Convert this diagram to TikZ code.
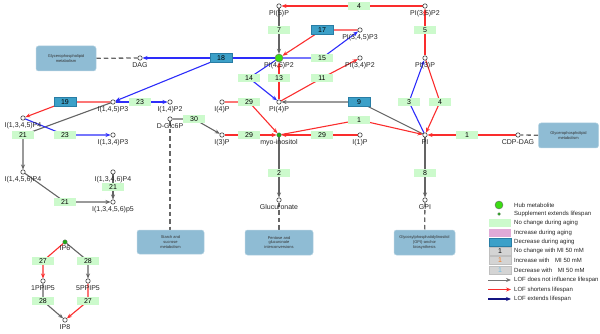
\documentclass[tikz,border=0pt]{standalone}
\usepackage{fontspec}
\setmainfont{Liberation Sans}
\usetikzlibrary{arrows.meta}
\definecolor{boxgreen}{RGB}{204,250,204}
\definecolor{boxblue}{RGB}{60,160,200}
\definecolor{boxblueborder}{RGB}{40,125,165}
\definecolor{pathbox}{RGB}{143,188,212}
\definecolor{pathborder}{RGB}{180,210,225}
\definecolor{redl}{RGB}{250,45,45}
\definecolor{bluel}{RGB}{45,45,250}
\definecolor{grayl}{RGB}{100,100,100}
\definecolor{navyl}{RGB}{20,20,130}
\definecolor{pinkbox}{RGB}{225,170,215}
\definecolor{graybox}{RGB}{212,212,212}
\definecolor{hubgreen}{RGB}{60,220,20}
\definecolor{supgreen}{RGB}{30,170,20}
\definecolor{orangetxt}{RGB}{240,120,30}
\definecolor{ltbluetxt}{RGB}{110,190,230}
\pgfdeclarelayer{bg}\pgfsetlayers{bg,main}
\begin{document}
\begin{tikzpicture}[x=1pt,y=-1pt,label distance=1pt,
  met/.style={circle,draw=black!75,fill=white,line width=0.6pt,inner sep=0pt,minimum size=4.4pt},
  hubm/.style={circle,draw=black!60,fill=hubgreen,line width=0.4pt,inner sep=0pt,minimum size=8pt},
  supm/.style={circle,draw=black!60,fill=supgreen,line width=0.3pt,inner sep=0pt,minimum size=4.5pt},
  labst/.style={font=\fontsize{7}{7}\selectfont,inner sep=0.5pt,text=black!85},
  rx/.style={fill=boxgreen,inner sep=0pt,minimum width=22pt,minimum height=8.5pt,font=\fontsize{7}{7}\selectfont},
  rxb/.style={rx,fill=boxblue,draw=boxblueborder,line width=0.5pt},
  pw/.style={rounded corners=2.5pt,fill=pathbox,draw=pathborder,line width=0.5pt,inner sep=0pt,align=center,font=\fontsize{4}{4.8}\selectfont,text=black!80},
  tip/.style={-{Stealth[length=5pt,width=4pt]}},
  redc/.style={draw=redl,line width=1.1pt,tip},
  bluec/.style={draw=bluel,line width=1.1pt,tip},
  grayc/.style={draw=grayl,line width=1.1pt,tip},
  dsh/.style={draw=black!60,line width=1.3pt,dash pattern=on 4.5pt off 3pt},
  legt/.style={anchor=west,inner sep=0pt,font=\fontsize{6}{6}\selectfont,text=black!85},
  legb/.style={inner sep=0pt,minimum width=22pt,minimum height=8pt,font=\fontsize{7}{7}\selectfont}
]
\useasboundingbox (0,0) rectangle (600,334);

% ---------- metabolites ----------
\node[met,label={[labst]below:PI(5)P}] (PI5P) at (279,6) {};
\node[met,label={[labst]below:PI(3,5)P2}] (PI35P2) at (425,6) {};
\node[met,label={[labst]below:PI(3)P}] (PI3P) at (425,58) {};
\node[met,label={[labst]below:PI}] (PI) at (425,135) {};
\node[met,label={[labst]below:CDP-DAG}] (CDPDAG) at (518,135) {};
\node[met,label={[labst]below:GPI}] (GPI) at (425,200) {};
\node[hubm,label={[labst,yshift=1pt]below:PI(4,5)P2}] (PI45P2) at (279,58) {};
\node[met,label={[labst]below:PI(3,4,5)P3}] (PI345P3) at (360,30) {};
\node[met,label={[labst]below:PI(3,4)P2}] (PI34P2) at (360,58) {};
\node[met,label={[labst]below:PI(4)P}] (PI4P) at (279,102) {};
\node[met,label={[labst]below:DAG}] (DAG) at (140,58) {};
\node[met,label={[labst]below:I(4)P}] (I4P) at (222,102) {};
\node[met,label={[labst]below:I(3)P}] (I3P) at (222,135) {};
\node[met,label={[labst]below:I(1)P}] (I1P) at (360,135) {};
\node[supm,label={[labst]below:myo-inositol}] (MI) at (279,135) {};
\node[met,label={[labst]below:Glucuronate}] (Gluc) at (279,200) {};
\node[met,label={[labst]below:D-Glc6P}] (DGlc6P) at (170,119) {};
\node[met,label={[labst]below:I(1,4)P2}] (I14P2) at (170,102) {};
\node[met,label={[labst]below:I(1,4,5)P3}] (I145P3) at (113,102) {};
\node[met,label={[labst]below:I(1,3,4,5)P4}] (I1345P4) at (23,118) {};
\node[met,label={[labst]below:I(1,3,4)P3}] (I134P3) at (113,135) {};
\node[met,label={[labst]below:I(1,4,5,6)P4}] (I1456P4) at (23,172) {};
\node[met,label={[labst]below:I(1,3,4,6)P4}] (I1346P4) at (113,172) {};
\node[met,label={[labst]below:I(1,3,4,5,6)p5}] (I13456P5) at (113,202) {};
\node[supm,label={[labst]below:IP6}] (IP6) at (65,242) {};
\node[met,label={[labst]below:1PPIP5}] (PP1) at (43,281) {};
\node[met,label={[labst]below:5PPIP5}] (PP5) at (88,281) {};
\node[met,label={[labst]below:IP8}] (IP8) at (65,320) {};

% ---------- reaction boxes ----------
\node[rx] (r4a) at (359,6) {4};
\node[rx] (r7) at (279,30) {7};
\node[rxb] (r17) at (322,30) {17};
\node[rx] (r5) at (425,30) {5};
\node[rxb] (r18) at (221,58) {18};
\node[rx] (r15) at (322,58) {15};
\node[rx] (r14) at (249,78) {14};
\node[rx] (r13) at (279,78) {13};
\node[rx] (r11) at (322,78) {11};
\node[rx] (r3) at (409,102) {3};
\node[rx] (r4b) at (440,102) {4};
\node[rxb] (r19) at (65,102) {19};
\node[rx] (r23a) at (140,102) {23};
\node[rx] (r29a) at (249,102) {29};
\node[rxb] (r9) at (359,102) {9};
\node[rx] (r30) at (194,119) {30};
\node[rx] (r1a) at (359,120) {1};
\node[rx] (r21a) at (23,135) {21};
\node[rx] (r23b) at (65,135) {23};
\node[rx] (r29b) at (249,135) {29};
\node[rx] (r29c) at (322,135) {29};
\node[rx] (r1b) at (467,135) {1};
\node[rx] (r2) at (279,173) {2};
\node[rx] (r8) at (425,173) {8};
\node[rx] (r21b) at (113,187) {21};
\node[rx] (r21c) at (65,202) {21};
\node[rx] (r27a) at (43,261) {27};
\node[rx] (r28a) at (88,261) {28};
\node[rx] (r28b) at (43,301) {28};
\node[rx] (r27b) at (88,301) {27};

% ---------- pathway boxes ----------
\node[pw,minimum width=60pt,minimum height=25pt] (pwL) at (66,58.5) {Glycerophospholipid\\metabolism};
\node[pw,minimum width=60pt,minimum height=25pt] (pwR) at (568.5,135.5) {Glycerophospholipid\\metabolism};
\node[pw,minimum width=67pt,minimum height=24pt] (pwS) at (170.5,242) {Starch and\\sucrose\\metabolism};
\node[pw,minimum width=68pt,minimum height=25pt] (pwP) at (279,242.5) {Pentose and\\glucuronate\\interconversions};
\node[pw,minimum width=61pt,minimum height=25pt] (pwG) at (424.5,242.5) {Glycosylphosphatidylinositol\\(GPI)-anchor\\biosynthesis};

% ---------- connectors ----------
\begin{pgfonlayer}{bg}
\draw[redc] (PI35P2) -- (r4a.center) -- (PI5P);
\draw[grayc] (PI5P) -- (r7.center) -- (PI45P2);
\draw[redc] (PI345P3) -- (r17.center) -- (PI45P2);
\draw[bluec] (PI45P2) -- (r15.center) -- (PI345P3);
\draw[redc] (PI4P) -- (r11.center) -- (PI34P2);
\draw[redc] (PI4P) -- (r13.center) -- (PI45P2);
\draw[bluec] (PI45P2) -- (r14.center) -- (PI4P);
\draw[bluec] (PI45P2) -- (r18.center) -- (DAG);
\draw[bluec] (r18.center) -- (I145P3);
\draw[dsh] (pwL) -- (DAG);
\draw[grayc] (PI) -- (r9.center) -- (PI4P);
\draw[redc] (MI) -- (r1a.center) -- (PI);
\draw[redc] (PI3P) -- (r5.center) -- (PI35P2);
\draw[bluec] (PI) -- (r3.center) -- (PI3P);
\draw[redc] (PI3P) -- (r4b.center) -- (PI);
\draw[redc] (CDPDAG) -- (r1b.center) -- (PI);
\draw[dsh] (pwR) -- (CDPDAG);
\draw[grayc] (PI) -- (r8.center) -- (GPI);
\draw[dsh] (GPI) -- (pwG);
\draw[redc] (I4P) -- (r29a.center) -- (MI);
\draw[redc] (I3P) -- (r29b.center) -- (MI);
\draw[redc] (I1P) -- (r29c.center) -- (MI);
\draw[grayc] (MI) -- (r2.center) -- (Gluc);
\draw[dsh] (Gluc) -- (pwP);
\draw[dsh] (DGlc6P) -- (DGlc6P |- pwS.north);
\draw[grayc] (DGlc6P) -- (r30.center) -- (I3P);
\draw[bluec] (I145P3) -- (r23a.center) -- (I14P2);
\draw[redc] (I145P3) -- (r19.center) -- (I1345P4);
\draw[grayc] (I145P3) -- (r21a.center) -- (I1456P4);
\draw[bluec] (I1345P4) -- (r23b.center) -- (I134P3);
\draw[grayc] (I1456P4) -- (r21c.center) -- (I13456P5);
\draw[grayc] (I1346P4) -- (r21b.center) -- (I13456P5);
\draw[redc] (IP6) -- (r27a.center) -- (PP1);
\draw[grayc] (IP6) -- (r28a.center) -- (PP5);
\draw[grayc] (PP1) -- (r28b.center) -- (IP8);
\draw[redc] (PP5) -- (r27b.center) -- (IP8);
\end{pgfonlayer}

% ---------- legend ----------
\node[hubm] (lgHub) at (499,205) {};
\node[legt] (lgHubT) at (514,205) {Hub metabolite};
\node[supm,minimum size=3pt] (lgSup) at (499,214) {};
\node[legt] (lgSupT) at (514,214) {Supplement extends lifespan};
\node[legb,fill=boxgreen] (lgB1) at (500,223) {};
\node[legt] (lgB1T) at (514,223) {No change during aging};
\node[legb,fill=pinkbox] (lgB2) at (500,232.5) {};
\node[legt] (lgB2T) at (514,232.5) {Increase during aging};
\node[legb,fill=boxblue,draw=boxblueborder,line width=0.5pt] (lgB3) at (500,242) {};
\node[legt] (lgB3T) at (514,242) {Decrease during aging};
\node[legb,fill=graybox,draw=black!25,line width=0.4pt] (lgB4) at (500,251) {1};
\node[legt] (lgB4T) at (514,251) {No change with MI 50 mM};
\node[legb,fill=graybox,draw=black!25,line width=0.4pt,text=orangetxt] (lgB5) at (500,260.5) {1};
\node[legt] (lgB5T) at (514,260.5) {Increase with\hspace{4pt} MI 50 mM};
\node[legb,fill=graybox,draw=black!25,line width=0.4pt,text=ltbluetxt] (lgB6) at (500,270) {1};
\node[legt] (lgB6T) at (514,270) {Decrease with\hspace{4pt} MI 50 mM};
\coordinate (lgA1a) at (488,280); \coordinate (lgA1b) at (511,280);
\draw[draw=black!55,line width=0.7pt,tip] (lgA1a) -- (lgA1b);
\node[legt] (lgA1T) at (514,280) {LOF does not influence lifespan};
\coordinate (lgA2a) at (488,289.5); \coordinate (lgA2b) at (511,289.5);
\draw[redc,line width=1.2pt] (lgA2a) -- (lgA2b);
\node[legt] (lgA2T) at (514,289.5) {LOF shortens lifespan};
\coordinate (lgA3a) at (488,299); \coordinate (lgA3b) at (511,299);
\draw[draw=navyl,line width=1.4pt,tip] (lgA3a) -- (lgA3b);
\node[legt] (lgA3T) at (514,299) {LOF extends lifespan};
\end{tikzpicture}
\end{document}
